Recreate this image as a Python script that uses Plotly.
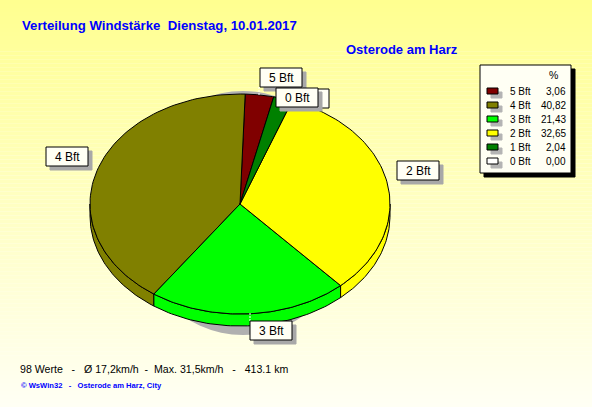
import numpy as np
import plotly.graph_objects as go

# data, in drawing order (counter clockwise from the start angle)
labels = ["5 Bft", "4 Bft", "3 Bft", "2 Bft", "1 Bft", "0 Bft"]
percent = [3.06, 40.82, 21.43, 32.65, 2.04, 0.00]
colors = ["#800000", "#808000", "#00FF00", "#FFFF00", "#008000", "#FFFFFF"]

title = "Verteilung Windstärke  Dienstag, 10.01.2017"
station = "Osterode am Harz"
summary = "98 Werte   -   Ø 17,2km/h  -  Max. 31,5km/h   -   413.1 km"
credit = "© WsWin32   -   Osterode am Harz, City"

W, H = 592, 407
CX, CY, RX, RY = 240, 204, 150, 110
DEPTH = 12
START = 13  # degrees clockwise from 12 o'clock
PAPER = "#FFFFF4"
BLUE = "#0000FF"
FONT = "Liberation Sans"


def px_pt(t, dy=0):
    t = np.radians(t)
    return CX + RX * np.sin(t), CY - RY * np.cos(t) + dy


def box(x0, y0, x1, y1, fill, line="#000000", width=1):
    return dict(type="rect", x0=x0, y0=y0, x1=x1, y1=y1, fillcolor=fill,
                line=dict(color=line, width=width), layer="above")


def text(x, y, s, size=11, color="#000000", anchor="left", bold=False):
    return dict(x=x, y=y, text=f"<b>{s}</b>" if bold else s, showarrow=False, xanchor=anchor, yanchor="middle",
                font=dict(family=FONT, size=size, color=color), xref="x", yref="y")


fig = go.Figure()

# slice angles from the values
ends = START - np.cumsum(percent) * 3.6
starts = np.r_[START, ends[:-1]]

# side wall, only the part facing the viewer (90..270 deg clockwise from top)
for a, b, c in zip(starts, ends, colors):
    hi, lo = a, b
    # shift the range so it can be compared with the front half
    for k in (0, -360):
        h, l = min(hi, 270 + k), max(lo, 90 + k)
        if h <= l:
            continue
        ts = np.linspace(l, h, 60)
        x0, y0 = px_pt(ts)
        x1, y1 = px_pt(ts, DEPTH)
        fig.add_trace(go.Scatter(x=np.r_[x0, x1[::-1], x0[0]], y=np.r_[y0, y1[::-1], y0[0]], mode="lines",
                                 fill="toself", fillcolor=c, line=dict(color="#000000", width=1), hoverinfo="skip"))

# top face
for a, b, c, p in zip(starts, ends, colors, percent):
    if p == 0:
        continue
    ts = np.linspace(a, b, 80)
    x, y = px_pt(ts)
    fig.add_trace(go.Scatter(x=np.r_[CX, x, CX], y=np.r_[CY, y, CY], mode="lines", fill="toself", fillcolor=c,
                             line=dict(color="#000000", width=1), hoverinfo="skip"))

# background bands, yellow fading to ivory
shapes = []
n = 102
for i in range(n):
    f = i / (n - 1)
    b = int(round(0x90 + (0xF4 - 0x90) * f))
    shapes.append(dict(type="rect", x0=0, x1=W, y0=i * H / n, y1=(i + 1) * H / n, layer="below",
                       fillcolor=f"rgb(255,255,{b})", line=dict(width=0)))

# grey shadow below the pie
shapes.append(dict(type="circle", x0=243 - 112, x1=243 + 112, y0=213 - 122, y1=213 + 122, layer="below",
                   fillcolor="#B0B0B0", line=dict(width=0)))

annotations = [
    text(20, 25, title, size=13.2, color=BLUE, bold=True),
    text(344, 49, station, size=13, color=BLUE, bold=True),
    text(18, 369, summary, size=10.6),
    text(19, 385, credit, size=7.6, color=BLUE, bold=True),
]

# dashed white leader lines
for x0, y0, x1, y1 in [(259, 87, 259, 95), (250, 313, 250, 321)]:
    shapes.append(dict(type="line", x0=x0, y0=y0, x1=x1, y1=y1, layer="above",
                       line=dict(color="#FFFFFF", width=1, dash="2px,1px")))

# slice label boxes, back to front; the 1 Bft one is almost hidden behind 0 Bft
label_boxes = {"1 Bft": (287, 89), "5 Bft": (260, 68), "0 Bft": (276, 88),
               "4 Bft": (46, 147), "2 Bft": (397, 161), "3 Bft": (250, 321)}
for name, (bx, by) in label_boxes.items():
    if name != "1 Bft":
        shapes.append(box(bx + 4, by + 4, bx + 46, by + 23, "#A8A8A8", line="#A8A8A8"))
    shapes.append(box(bx, by, bx + 42, by + 19, PAPER))
    if name != "1 Bft":
        annotations.append(text(bx + 21, by + 10, name, size=12, anchor="center"))

# legend panel
shapes.append(box(484, 69, 575, 177, "#000000"))
shapes.append(box(480, 65, 571, 173, PAPER))
annotations.append(text(553, 75, "%", size=10.5, anchor="center"))
for i, (name, p, c) in enumerate(zip(labels, percent, colors)):
    y = 91 + 14 * i
    shapes.append(box(491, y + 1, 502, y + 7, "#B4B4B4", line="#B4B4B4"))
    shapes.append(box(487, y - 3, 498, y + 3, c))
    annotations.append(text(508, y, name, size=10))
    annotations.append(text(568, y, f"{p:.2f}".replace(".", ","), size=10, anchor="right"))

fig.update_layout(
    width=W, height=H, margin=dict(l=0, r=0, t=0, b=0), showlegend=False,
    paper_bgcolor=PAPER, plot_bgcolor=PAPER,
    xaxis=dict(range=[0, W], visible=False, fixedrange=True),
    yaxis=dict(range=[H, 0], visible=False, fixedrange=True),
    shapes=shapes, annotations=annotations,
)
fig.write_html("out.html", config=dict(displayModeBar=False),
               post_script="document.body.style.margin='0';")
